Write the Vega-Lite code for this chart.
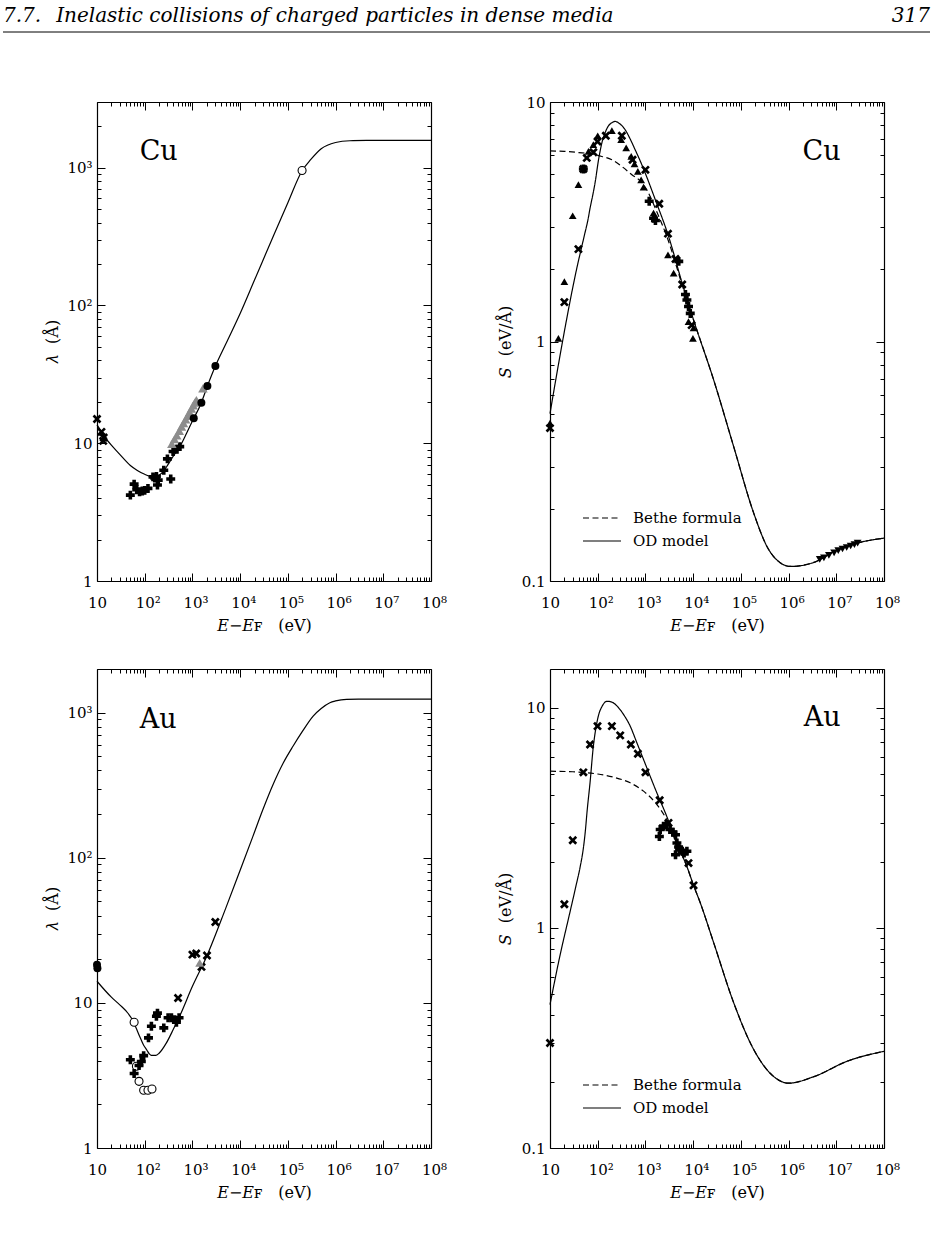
{
  "$schema": "https://vega.github.io/schema/vega-lite/v6.json",
  "autosize": {"type": "none"},
  "padding": {"left": 3, "top": 22, "right": 931, "bottom": 1215},
  "background": "white",
  "config": {
    "view": {"stroke": null},
    "font": "DejaVu Serif",
    "point": {"opacity": 1},
    "axis": {
      "labelFont": "DejaVu Serif", "labelFontSize": 15, "labelColor": "black", "labelFontWeight": "normal",
      "titleFont": "DejaVu Serif", "titleFontSize": 16, "titleColor": "black", "titleFontWeight": "normal",
      "tickColor": "black", "tickWidth": 1, "domainColor": "black", "domainWidth": 1.2,
      "grid": false, "labelOverlap": false, "labelFlush": false, "labelBound": false
    },
    "legend": {
      "orient": "bottom-left", "offset": 32, "padding": 0,
      "labelFont": "DejaVu Serif", "labelFontSize": 15, "labelColor": "black",
      "symbolType": "stroke", "symbolSize": 1444, "symbolStrokeWidth": 1.2, "symbolStrokeColor": "black",
      "labelOffset": 11, "clipHeight": 16, "rowPadding": 7
    }
  },
  "datasets": {
    "header": [{"section": "7.7.\u2002\u2005Inelastic collisions of charged particles in dense media", "page": "317"}],
    "metals": [{"metal": "Cu"}, {"metal": "Au"}],
    "cuLambdaCurve": [
      {"E": 10, "lambda": 13.6}, {"E": 12, "lambda": 12.3}, {"E": 14, "lambda": 11.2}, {"E": 16, "lambda": 10.6},
      {"E": 20, "lambda": 9.7}, {"E": 30, "lambda": 8.3}, {"E": 50, "lambda": 6.9}, {"E": 70, "lambda": 6.35},
      {"E": 100, "lambda": 5.95}, {"E": 130, "lambda": 5.75}, {"E": 160, "lambda": 5.7}, {"E": 200, "lambda": 5.85},
      {"E": 250, "lambda": 6.3}, {"E": 300, "lambda": 6.9}, {"E": 400, "lambda": 8.1}, {"E": 550, "lambda": 9.5},
      {"E": 700, "lambda": 11.2}, {"E": 1000, "lambda": 14.5}, {"E": 1500, "lambda": 19.3}, {"E": 2000, "lambda": 25.3},
      {"E": 3000, "lambda": 36}, {"E": 5000, "lambda": 52.5}, {"E": 10000, "lambda": 87.5}, {"E": 20000, "lambda": 153},
      {"E": 50000, "lambda": 321}, {"E": 100000, "lambda": 557}, {"E": 200000, "lambda": 955}, {"E": 300000, "lambda": 1143},
      {"E": 500000, "lambda": 1373}, {"E": 1000000, "lambda": 1525}, {"E": 2000000, "lambda": 1570}, {"E": 5000000, "lambda": 1578},
      {"E": 10000000, "lambda": 1580}, {"E": 100000000, "lambda": 1580}
    ],
    "cuLambdaPoints": [
      {"E": 10, "lambda": 15.0, "marker": "cross"}, {"E": 12.4, "lambda": 12.1, "marker": "cross"},
      {"E": 13.8, "lambda": 11.0, "marker": "cross"}, {"E": 13.5, "lambda": 10.4, "marker": "cross"},
      {"E": 50, "lambda": 4.2, "marker": "plus"}, {"E": 60, "lambda": 5.05, "marker": "plus"},
      {"E": 68, "lambda": 4.6, "marker": "plus"}, {"E": 78, "lambda": 4.45, "marker": "plus"},
      {"E": 89, "lambda": 4.5, "marker": "plus"}, {"E": 100, "lambda": 4.55, "marker": "plus"},
      {"E": 117, "lambda": 4.7, "marker": "plus"}, {"E": 149, "lambda": 5.7, "marker": "plus"},
      {"E": 162, "lambda": 5.6, "marker": "plus"}, {"E": 176, "lambda": 5.75, "marker": "plus"},
      {"E": 185, "lambda": 4.97, "marker": "plus"}, {"E": 192, "lambda": 5.4, "marker": "plus"},
      {"E": 251, "lambda": 6.37, "marker": "plus"}, {"E": 299, "lambda": 7.7, "marker": "plus"},
      {"E": 351, "lambda": 5.5, "marker": "plus"}, {"E": 393, "lambda": 8.7, "marker": "plus"},
      {"E": 475, "lambda": 9.05, "marker": "plus"}, {"E": 542, "lambda": 9.45, "marker": "plus"},
      {"E": 370, "lambda": 9.9, "marker": "grey"}, {"E": 420, "lambda": 10.7, "marker": "grey"},
      {"E": 470, "lambda": 11.4, "marker": "grey"}, {"E": 530, "lambda": 12.3, "marker": "grey"},
      {"E": 590, "lambda": 13.2, "marker": "grey"}, {"E": 650, "lambda": 14.0, "marker": "grey"},
      {"E": 720, "lambda": 14.9, "marker": "grey"}, {"E": 790, "lambda": 15.8, "marker": "grey"},
      {"E": 870, "lambda": 16.8, "marker": "grey"}, {"E": 950, "lambda": 17.8, "marker": "grey"},
      {"E": 1040, "lambda": 18.8, "marker": "grey"}, {"E": 1120, "lambda": 19.7, "marker": "grey"},
      {"E": 1210, "lambda": 20.6, "marker": "grey"}, {"E": 1660, "lambda": 25, "marker": "grey"},
      {"E": 1065, "lambda": 15.2, "marker": "dot"}, {"E": 1540, "lambda": 19.7, "marker": "dot"},
      {"E": 2060, "lambda": 26, "marker": "dot"}, {"E": 3030, "lambda": 36.3, "marker": "dot"},
      {"E": 198600, "lambda": 955, "marker": "ring"}
    ],
    "cuStoppingCurves": [
      {"E": 10, "S": 0.5, "model": "OD model"}, {"E": 13, "S": 0.68, "model": "OD model"}, {"E": 16, "S": 0.86, "model": "OD model"},
      {"E": 22, "S": 1.22, "model": "OD model"}, {"E": 30, "S": 1.68, "model": "OD model"}, {"E": 38, "S": 2.1, "model": "OD model"},
      {"E": 45, "S": 2.43, "model": "OD model"}, {"E": 54, "S": 2.84, "model": "OD model"}, {"E": 62, "S": 3.2, "model": "OD model"},
      {"E": 70, "S": 3.65, "model": "OD model"}, {"E": 80, "S": 4.15, "model": "OD model"}, {"E": 88, "S": 4.6, "model": "OD model"},
      {"E": 105, "S": 5.8, "model": "OD model"}, {"E": 122, "S": 6.74, "model": "OD model"}, {"E": 145, "S": 7.5, "model": "OD model"},
      {"E": 168, "S": 7.95, "model": "OD model"}, {"E": 200, "S": 8.2, "model": "OD model"}, {"E": 232, "S": 8.3, "model": "OD model"},
      {"E": 280, "S": 8.15, "model": "OD model"}, {"E": 376, "S": 7.66, "model": "OD model"}, {"E": 480, "S": 7.0, "model": "OD model"},
      {"E": 611, "S": 6.31, "model": "OD model"}, {"E": 800, "S": 5.6, "model": "OD model"}, {"E": 990, "S": 5.05, "model": "OD model"},
      {"E": 1610, "S": 3.91, "model": "OD model"}, {"E": 3050, "S": 2.75, "model": "OD model"}, {"E": 5900, "S": 1.75, "model": "OD model"},
      {"E": 10200, "S": 1.23, "model": "OD model"}, {"E": 27000, "S": 0.69, "model": "OD model"}, {"E": 71000, "S": 0.363, "model": "OD model"},
      {"E": 186000, "S": 0.192, "model": "OD model"}, {"E": 355000, "S": 0.139, "model": "OD model"}, {"E": 676000, "S": 0.119, "model": "OD model"},
      {"E": 1100000, "S": 0.115, "model": "OD model"}, {"E": 3400000, "S": 0.1196, "model": "OD model"}, {"E": 10500000, "S": 0.135, "model": "OD model"},
      {"E": 27500000, "S": 0.144, "model": "OD model"}, {"E": 100000000, "S": 0.151, "model": "OD model"},
      {"E": 10, "S": 6.25, "model": "Bethe formula"}, {"E": 20, "S": 6.22, "model": "Bethe formula"}, {"E": 40, "S": 6.15, "model": "Bethe formula"},
      {"E": 70, "S": 6.08, "model": "Bethe formula"}, {"E": 103, "S": 5.97, "model": "Bethe formula"}, {"E": 198, "S": 5.74, "model": "Bethe formula"},
      {"E": 320, "S": 5.38, "model": "Bethe formula"}, {"E": 520, "S": 4.97, "model": "Bethe formula"}, {"E": 850, "S": 4.6, "model": "Bethe formula"},
      {"E": 1070, "S": 4.3, "model": "Bethe formula"}, {"E": 1610, "S": 3.6, "model": "Bethe formula"}, {"E": 3050, "S": 2.62, "model": "Bethe formula"},
      {"E": 5900, "S": 1.72, "model": "Bethe formula"}, {"E": 10200, "S": 1.23, "model": "Bethe formula"}, {"E": 27000, "S": 0.69, "model": "Bethe formula"},
      {"E": 71000, "S": 0.363, "model": "Bethe formula"}, {"E": 186000, "S": 0.192, "model": "Bethe formula"}, {"E": 355000, "S": 0.139, "model": "Bethe formula"},
      {"E": 676000, "S": 0.119, "model": "Bethe formula"}, {"E": 1100000, "S": 0.115, "model": "Bethe formula"}, {"E": 3400000, "S": 0.1196, "model": "Bethe formula"},
      {"E": 10500000, "S": 0.135, "model": "Bethe formula"}, {"E": 27500000, "S": 0.144, "model": "Bethe formula"}, {"E": 100000000, "S": 0.151, "model": "Bethe formula"}
    ],
    "cuStoppingPoints": [
      {"E": 10, "S": 0.456, "marker": "tri"}, {"E": 15, "S": 1.03, "marker": "tri"}, {"E": 20, "S": 1.78, "marker": "tri"},
      {"E": 29.9, "S": 3.35, "marker": "tri"}, {"E": 39.4, "S": 4.52, "marker": "tri"}, {"E": 64, "S": 6.22, "marker": "tri"},
      {"E": 81, "S": 6.64, "marker": "tri"}, {"E": 100, "S": 7.23, "marker": "tri"}, {"E": 198, "S": 7.6, "marker": "tri"},
      {"E": 310, "S": 6.97, "marker": "tri"}, {"E": 395, "S": 6.43, "marker": "tri"}, {"E": 504, "S": 5.93, "marker": "tri"},
      {"E": 590, "S": 5.52, "marker": "tri"}, {"E": 694, "S": 5.13, "marker": "tri"}, {"E": 813, "S": 4.73, "marker": "tri"},
      {"E": 913, "S": 4.41, "marker": "tri"}, {"E": 1480, "S": 3.44, "marker": "tri"}, {"E": 2970, "S": 2.3, "marker": "tri"},
      {"E": 3900, "S": 1.93, "marker": "tri"}, {"E": 8000, "S": 1.21, "marker": "tri"}, {"E": 10200, "S": 1.14, "marker": "tri"},
      {"E": 9900, "S": 1.03, "marker": "tri"},
      {"E": 10, "S": 0.435, "marker": "cross"}, {"E": 20, "S": 1.46, "marker": "cross"}, {"E": 39.4, "S": 2.43, "marker": "cross"},
      {"E": 50, "S": 5.25, "marker": "cross"}, {"E": 59, "S": 5.84, "marker": "cross"}, {"E": 81, "S": 6.17, "marker": "cross"},
      {"E": 99, "S": 6.84, "marker": "cross"}, {"E": 148, "S": 7.23, "marker": "cross"}, {"E": 320, "S": 7.23, "marker": "cross"},
      {"E": 537, "S": 5.74, "marker": "cross"}, {"E": 1000, "S": 5.21, "marker": "cross"}, {"E": 1950, "S": 3.76, "marker": "cross"},
      {"E": 2970, "S": 2.82, "marker": "cross"}, {"E": 4270, "S": 2.21, "marker": "cross"}, {"E": 5900, "S": 1.73, "marker": "cross"},
      {"E": 9300, "S": 1.17, "marker": "cross"},
      {"E": 50, "S": 5.25, "marker": "plus"}, {"E": 1200, "S": 3.85, "marker": "plus"}, {"E": 1480, "S": 3.27, "marker": "plus"},
      {"E": 1620, "S": 3.2, "marker": "plus"}, {"E": 5000, "S": 2.16, "marker": "plus"}, {"E": 6900, "S": 1.57, "marker": "plus"},
      {"E": 7400, "S": 1.49, "marker": "plus"}, {"E": 8000, "S": 1.4, "marker": "plus"}, {"E": 8700, "S": 1.31, "marker": "plus"},
      {"E": 4500000, "S": 0.123, "marker": "tridown"}, {"E": 5500000, "S": 0.125, "marker": "tridown"}, {"E": 7000000, "S": 0.128, "marker": "tridown"},
      {"E": 9000000, "S": 0.131, "marker": "tridown"}, {"E": 11000000, "S": 0.134, "marker": "tridown"}, {"E": 13500000, "S": 0.136, "marker": "tridown"},
      {"E": 16500000, "S": 0.138, "marker": "tridown"}, {"E": 20000000, "S": 0.14, "marker": "tridown"}, {"E": 24000000, "S": 0.142, "marker": "tridown"},
      {"E": 28000000, "S": 0.144, "marker": "tridown"}
    ],
    "auLambdaCurve": [
      {"E": 10, "lambda": 14.1}, {"E": 20, "lambda": 10.95}, {"E": 30, "lambda": 9.7}, {"E": 45, "lambda": 8.45},
      {"E": 57, "lambda": 7.5}, {"E": 65, "lambda": 6.8}, {"E": 78, "lambda": 5.9}, {"E": 95, "lambda": 5.1},
      {"E": 110, "lambda": 4.75}, {"E": 125, "lambda": 4.45}, {"E": 138, "lambda": 4.35}, {"E": 170, "lambda": 4.35},
      {"E": 200, "lambda": 4.5}, {"E": 285, "lambda": 5.3}, {"E": 400, "lambda": 6.6}, {"E": 540, "lambda": 8.1},
      {"E": 1000, "lambda": 13}, {"E": 2000, "lambda": 21}, {"E": 5000, "lambda": 45}, {"E": 10000, "lambda": 82},
      {"E": 18600, "lambda": 141}, {"E": 30000, "lambda": 215}, {"E": 49000, "lambda": 320}, {"E": 80000, "lambda": 450},
      {"E": 129000, "lambda": 589}, {"E": 200000, "lambda": 740}, {"E": 339000, "lambda": 948}, {"E": 500000, "lambda": 1070},
      {"E": 760000, "lambda": 1172}, {"E": 1000000, "lambda": 1205}, {"E": 1700000, "lambda": 1236}, {"E": 3000000, "lambda": 1240},
      {"E": 100000000, "lambda": 1240}
    ],
    "auLambdaPoints": [
      {"E": 10, "lambda": 18.3, "marker": "dot"}, {"E": 10.2, "lambda": 17.3, "marker": "dot"},
      {"E": 60, "lambda": 7.35, "marker": "ring"}, {"E": 67, "lambda": 3.66, "marker": "ring"}, {"E": 76, "lambda": 2.88, "marker": "ring"},
      {"E": 95, "lambda": 2.5, "marker": "ring"}, {"E": 117, "lambda": 2.5, "marker": "ring"}, {"E": 142, "lambda": 2.55, "marker": "ring"},
      {"E": 50, "lambda": 4.06, "marker": "plus"}, {"E": 60, "lambda": 3.26, "marker": "plus"}, {"E": 76, "lambda": 3.7, "marker": "plus"},
      {"E": 85, "lambda": 3.95, "marker": "plus"}, {"E": 95, "lambda": 4.33, "marker": "plus"}, {"E": 120, "lambda": 5.74, "marker": "plus"},
      {"E": 138, "lambda": 6.9, "marker": "plus"}, {"E": 176, "lambda": 8.1, "marker": "plus"}, {"E": 185, "lambda": 8.5, "marker": "plus"},
      {"E": 251, "lambda": 6.73, "marker": "plus"}, {"E": 309, "lambda": 7.9, "marker": "plus"}, {"E": 363, "lambda": 7.9, "marker": "plus"},
      {"E": 426, "lambda": 7.67, "marker": "plus"}, {"E": 462, "lambda": 7.35, "marker": "plus"}, {"E": 525, "lambda": 7.9, "marker": "plus"},
      {"E": 500, "lambda": 10.8, "marker": "cross"}, {"E": 1000, "lambda": 21.5, "marker": "cross"}, {"E": 1200, "lambda": 21.9, "marker": "cross"},
      {"E": 1550, "lambda": 17.7, "marker": "cross"}, {"E": 2020, "lambda": 21.2, "marker": "cross"}, {"E": 3020, "lambda": 36.1, "marker": "cross"},
      {"E": 1420, "lambda": 18.9, "marker": "grey"}
    ],
    "auStoppingCurves": [
      {"E": 10, "S": 0.448, "model": "OD model"}, {"E": 16, "S": 0.74, "model": "OD model"}, {"E": 26, "S": 1.17, "model": "OD model"},
      {"E": 35, "S": 1.55, "model": "OD model"}, {"E": 43, "S": 1.9, "model": "OD model"}, {"E": 50, "S": 2.3, "model": "OD model"},
      {"E": 55, "S": 2.75, "model": "OD model"}, {"E": 60, "S": 3.4, "model": "OD model"}, {"E": 69, "S": 4.56, "model": "OD model"},
      {"E": 81, "S": 6.68, "model": "OD model"}, {"E": 90, "S": 7.9, "model": "OD model"}, {"E": 103, "S": 9.17, "model": "OD model"},
      {"E": 125, "S": 10.2, "model": "OD model"}, {"E": 156, "S": 10.7, "model": "OD model"}, {"E": 200, "S": 10.6, "model": "OD model"},
      {"E": 252, "S": 10.2, "model": "OD model"}, {"E": 350, "S": 9.3, "model": "OD model"}, {"E": 480, "S": 8.25, "model": "OD model"},
      {"E": 650, "S": 7.0, "model": "OD model"}, {"E": 913, "S": 5.82, "model": "OD model"}, {"E": 1740, "S": 4.1, "model": "OD model"},
      {"E": 2800, "S": 3.21, "model": "OD model"}, {"E": 4500, "S": 2.43, "model": "OD model"}, {"E": 7400, "S": 1.9, "model": "OD model"},
      {"E": 10200, "S": 1.56, "model": "OD model"}, {"E": 14100, "S": 1.3, "model": "OD model"}, {"E": 27000, "S": 0.855, "model": "OD model"},
      {"E": 71000, "S": 0.456, "model": "OD model"}, {"E": 186000, "S": 0.28, "model": "OD model"}, {"E": 490000, "S": 0.211, "model": "OD model"},
      {"E": 1000000, "S": 0.197, "model": "OD model"}, {"E": 3400000, "S": 0.211, "model": "OD model"}, {"E": 17000000, "S": 0.248, "model": "OD model"},
      {"E": 100000000, "S": 0.275, "model": "OD model"},
      {"E": 10, "S": 5.15, "model": "Bethe formula"}, {"E": 30, "S": 5.12, "model": "Bethe formula"}, {"E": 100, "S": 5.0, "model": "Bethe formula"},
      {"E": 214, "S": 4.84, "model": "Bethe formula"}, {"E": 480, "S": 4.56, "model": "Bethe formula"}, {"E": 913, "S": 4.18, "model": "Bethe formula"},
      {"E": 1740, "S": 3.63, "model": "Bethe formula"}, {"E": 2800, "S": 3.1, "model": "Bethe formula"}, {"E": 4500, "S": 2.43, "model": "Bethe formula"},
      {"E": 7400, "S": 1.9, "model": "Bethe formula"}, {"E": 10200, "S": 1.56, "model": "Bethe formula"}, {"E": 14100, "S": 1.3, "model": "Bethe formula"},
      {"E": 27000, "S": 0.855, "model": "Bethe formula"}, {"E": 71000, "S": 0.456, "model": "Bethe formula"}, {"E": 186000, "S": 0.28, "model": "Bethe formula"},
      {"E": 490000, "S": 0.211, "model": "Bethe formula"}, {"E": 1000000, "S": 0.197, "model": "Bethe formula"}, {"E": 3400000, "S": 0.211, "model": "Bethe formula"},
      {"E": 17000000, "S": 0.248, "model": "Bethe formula"}, {"E": 100000000, "S": 0.275, "model": "Bethe formula"}
    ],
    "auStoppingPoints": [
      {"E": 10, "S": 0.3, "marker": "cross"}, {"E": 20, "S": 1.28, "marker": "cross"}, {"E": 30, "S": 2.5, "marker": "cross"},
      {"E": 50, "S": 5.09, "marker": "cross"}, {"E": 69, "S": 6.81, "marker": "cross"}, {"E": 99, "S": 8.25, "marker": "cross"},
      {"E": 198, "S": 8.25, "marker": "cross"}, {"E": 296, "S": 7.49, "marker": "cross"}, {"E": 495, "S": 6.81, "marker": "cross"},
      {"E": 694, "S": 6.18, "marker": "cross"}, {"E": 1000, "S": 5.09, "marker": "cross"}, {"E": 1990, "S": 3.8, "marker": "cross"},
      {"E": 3050, "S": 3.0, "marker": "cross"}, {"E": 8000, "S": 1.97, "marker": "cross"}, {"E": 10200, "S": 1.56, "marker": "cross"},
      {"E": 1960, "S": 2.6, "marker": "plus"}, {"E": 2040, "S": 2.8, "marker": "plus"}, {"E": 2400, "S": 2.9, "marker": "plus"},
      {"E": 2750, "S": 2.95, "marker": "plus"}, {"E": 3270, "S": 2.8, "marker": "plus"}, {"E": 3770, "S": 2.72, "marker": "plus"},
      {"E": 4270, "S": 2.65, "marker": "plus"}, {"E": 4570, "S": 2.43, "marker": "plus"}, {"E": 4270, "S": 2.15, "marker": "plus"},
      {"E": 4950, "S": 2.33, "marker": "plus"}, {"E": 5190, "S": 2.27, "marker": "plus"}, {"E": 5900, "S": 2.23, "marker": "plus"},
      {"E": 6460, "S": 2.19, "marker": "plus"}, {"E": 7400, "S": 2.23, "marker": "plus"}
    ]
  },
  "spacing": 70,
  "bounds": "flush",
  "vconcat": [
    {
      "width": 927, "height": 10,
      "data": {"name": "header"},
      "layer": [
        {"mark": {"type": "rule", "color": "black", "strokeWidth": 1},
         "encoding": {"y": {"datum": 0, "type": "quantitative", "scale": {"domain": [0, 1]}, "axis": null}}},
        {"mark": {"type": "text", "align": "left", "baseline": "alphabetic", "font": "DejaVu Serif", "fontStyle": "italic", "fontSize": 20, "color": "black"},
         "encoding": {"x": {"datum": 0, "type": "quantitative", "scale": {"domain": [0, 1]}, "axis": null},
                      "y": {"datum": 1, "type": "quantitative", "axis": null},
                      "text": {"field": "section"}}},
        {"mark": {"type": "text", "align": "right", "baseline": "alphabetic", "font": "DejaVu Serif", "fontStyle": "italic", "fontSize": 20, "color": "black"},
         "encoding": {"x": {"datum": 1, "type": "quantitative", "axis": null},
                      "y": {"datum": 1, "type": "quantitative", "axis": null},
                      "text": {"field": "page"}}}
      ]
    },
    {
      "spacing": 0,
      "bounds": "flush",
      "hconcat": [
        {"width": 94, "height": 10, "data": {"values": []}, "mark": "point"},
        {
          "columns": 2,
          "spacing": {"row": 88, "column": 119},
          "bounds": "flush",
          "resolve": {"scale": {"x": "independent", "y": "independent", "strokeDash": "independent"}, "legend": {"strokeDash": "independent"}},
          "concat": [
            {
              "width": 334, "height": 479,
              "resolve": {"axis": {"x": "independent", "y": "independent"}},
              "layer": [
                {
                  "data": {"name": "cuLambdaCurve"},
                  "mark": {"type": "line", "interpolate": "monotone", "color": "black", "strokeWidth": 1.2},
                  "encoding": {
                    "x": {"field": "E", "type": "quantitative", "scale": {"type": "log", "domain": [10, 100000000], "nice": false},
                          "axis": {"orient": "bottom", "values": [10, 100, 1000, 10000, 100000, 1000000, 10000000, 100000000], "tickSize": -8,
                                   "labelExpr": "datum.value < 11 ? '10' : '10' + ['', '', '²', '³', '⁴', '⁵', '⁶', '⁷', '⁸'][round(log(datum.value) / LN10)]",
                                   "labelAlign": "left", "labelOffset": -9.5, "labelBaseline": "alphabetic", "labelPadding": 34,
                                   "title": "𝐸−𝐸ꜰ\u2003(eV)", "titlePadding": 7}},
                    "y": {"field": "lambda", "type": "quantitative", "scale": {"type": "log", "domain": [1, 3000], "nice": false},
                          "axis": {"orient": "left", "values": [1, 10, 100, 1000], "tickSize": -8,
                                   "labelExpr": "datum.value < 2 ? '1' : datum.value < 11 ? '10' : '10' + ['', '', '²', '³'][round(log(datum.value) / LN10)]",
                                   "labelPadding": 13, "labelBaseline": "middle", "title": "𝜆\u2002\u2009(Å)", "titlePadding": 6}}
                  }
                },
                {
                  "data": {"name": "cuLambdaPoints"},
                  "transform": [{"filter": "datum.marker === 'cross'"}],
                  "mark": {"type": "point", "shape": "M0.566,-0.99L0.99,-0.566L0.424,0L0.99,0.566L0.566,0.99L0,0.424L-0.566,0.99L-0.99,0.566L-0.424,0L-0.99,-0.566L-0.566,-0.99L0,-0.424Z", "filled": true, "color": "black", "size": 80, "opacity": 1},
                  "encoding": {
                    "x": {"field": "E", "type": "quantitative",
                          "axis": {"orient": "bottom", "values": [20, 30, 40, 50, 60, 70, 80, 90, 200, 300, 400, 500, 600, 700, 800, 900, 2000, 3000, 4000, 5000, 6000, 7000, 8000, 9000, 20000, 30000, 40000, 50000, 60000, 70000, 80000, 90000, 200000, 300000, 400000, 500000, 600000, 700000, 800000, 900000, 2000000, 3000000, 4000000, 5000000, 6000000, 7000000, 8000000, 9000000, 20000000, 30000000, 40000000, 50000000, 60000000, 70000000, 80000000, 90000000], "tickSize": -4, "labels": false, "domain": false, "title": null}},
                    "y": {"field": "lambda", "type": "quantitative",
                          "axis": {"orient": "left", "values": [2, 3, 4, 5, 6, 7, 8, 9, 20, 30, 40, 50, 60, 70, 80, 90, 200, 300, 400, 500, 600, 700, 800, 900, 2000, 3000], "tickSize": -4, "labels": false, "domain": false, "title": null}}
                  }
                },
                {
                  "data": {"name": "cuLambdaPoints"},
                  "transform": [{"filter": "datum.marker === 'plus'"}],
                  "mark": {"type": "point", "shape": "cross", "filled": true, "color": "black", "size": 80, "opacity": 1},
                  "encoding": {
                    "x": {"field": "E", "type": "quantitative",
                          "axis": {"orient": "top", "values": [10, 100, 1000, 10000, 100000, 1000000, 10000000, 100000000], "tickSize": -8, "labels": false, "domain": true, "title": null}},
                    "y": {"field": "lambda", "type": "quantitative",
                          "axis": {"orient": "right", "values": [1, 10, 100, 1000], "tickSize": -8, "labels": false, "domain": true, "title": null}}
                  }
                },
                {
                  "data": {"name": "cuLambdaPoints"},
                  "transform": [{"filter": "datum.marker === 'grey'"}],
                  "mark": {"type": "point", "shape": "triangle-up", "filled": true, "color": "#8c8c8c", "size": 90, "opacity": 1},
                  "encoding": {
                    "x": {"field": "E", "type": "quantitative",
                          "axis": {"orient": "top", "values": [20, 30, 40, 50, 60, 70, 80, 90, 200, 300, 400, 500, 600, 700, 800, 900, 2000, 3000, 4000, 5000, 6000, 7000, 8000, 9000, 20000, 30000, 40000, 50000, 60000, 70000, 80000, 90000, 200000, 300000, 400000, 500000, 600000, 700000, 800000, 900000, 2000000, 3000000, 4000000, 5000000, 6000000, 7000000, 8000000, 9000000, 20000000, 30000000, 40000000, 50000000, 60000000, 70000000, 80000000, 90000000], "tickSize": -4, "labels": false, "domain": false, "title": null}},
                    "y": {"field": "lambda", "type": "quantitative",
                          "axis": {"orient": "right", "values": [2, 3, 4, 5, 6, 7, 8, 9, 20, 30, 40, 50, 60, 70, 80, 90, 200, 300, 400, 500, 600, 700, 800, 900, 2000, 3000], "tickSize": -4, "labels": false, "domain": false, "title": null}}
                  }
                },
                {
                  "data": {"name": "cuLambdaPoints"},
                  "transform": [{"filter": "datum.marker === 'dot'"}],
                  "mark": {"type": "point", "shape": "circle", "filled": true, "color": "black", "size": 64, "opacity": 1},
                  "encoding": {
                    "x": {"field": "E", "type": "quantitative", "axis": null},
                    "y": {"field": "lambda", "type": "quantitative", "axis": null}
                  }
                },
                {
                  "data": {"name": "cuLambdaPoints"},
                  "transform": [{"filter": "datum.marker === 'ring'"}],
                  "mark": {"type": "point", "shape": "circle", "filled": true, "fill": "white", "stroke": "black", "strokeWidth": 1.1, "size": 64, "opacity": 1},
                  "encoding": {
                    "x": {"field": "E", "type": "quantitative", "axis": null},
                    "y": {"field": "lambda", "type": "quantitative", "axis": null}
                  }
                },
                {
                  "data": {"name": "metals"},
                  "transform": [{"filter": "datum.metal === 'Cu'"}],
                  "mark": {"type": "text", "align": "left", "baseline": "alphabetic", "font": "DejaVu Serif", "fontSize": 27, "color": "black"},
                  "encoding": {
                    "x": {"datum": 78.5, "type": "quantitative", "axis": null},
                    "y": {"datum": 1130, "type": "quantitative", "axis": null},
                    "text": {"field": "metal"}
                  }
                }
              ]
            },
            {
              "width": 334, "height": 479,
              "resolve": {"axis": {"x": "independent", "y": "independent"}},
              "layer": [
                {
                  "data": {"name": "cuStoppingCurves"},
                  "mark": {"type": "line", "interpolate": "monotone", "color": "black", "strokeWidth": 1.2},
                  "encoding": {
                    "x": {"field": "E", "type": "quantitative", "scale": {"type": "log", "domain": [10, 100000000], "nice": false},
                          "axis": {"orient": "bottom", "values": [10, 100, 1000, 10000, 100000, 1000000, 10000000, 100000000], "tickSize": -8,
                                   "labelExpr": "datum.value < 11 ? '10' : '10' + ['', '', '²', '³', '⁴', '⁵', '⁶', '⁷', '⁸'][round(log(datum.value) / LN10)]",
                                   "labelAlign": "left", "labelOffset": -9.5, "labelBaseline": "alphabetic", "labelPadding": 34,
                                   "title": "𝐸−𝐸ꜰ\u2003(eV)", "titlePadding": 7}},
                    "y": {"field": "S", "type": "quantitative", "scale": {"type": "log", "domain": [0.1, 10], "nice": false},
                          "axis": {"orient": "left", "values": [0.1, 1, 10], "tickSize": -8,
                                   "labelExpr": "datum.value < 0.5 ? '0.1' : datum.value < 5 ? '1' : '10'",
                                   "labelPadding": 13, "labelBaseline": "middle", "title": "𝑆\u2002\u2009(eV/Å)", "titlePadding": 8}},
                    "strokeDash": {"field": "model", "type": "nominal",
                                   "scale": {"domain": ["Bethe formula", "OD model"], "range": [[6, 3.5], [1, 0]]},
                                   "legend": {"title": null}}
                  }
                },
                {
                  "data": {"name": "cuStoppingPoints"},
                  "transform": [{"filter": "datum.marker === 'tri'"}],
                  "mark": {"type": "point", "shape": "triangle-up", "filled": true, "color": "black", "size": 60, "opacity": 1},
                  "encoding": {
                    "x": {"field": "E", "type": "quantitative",
                          "axis": {"orient": "bottom", "values": [20, 30, 40, 50, 60, 70, 80, 90, 200, 300, 400, 500, 600, 700, 800, 900, 2000, 3000, 4000, 5000, 6000, 7000, 8000, 9000, 20000, 30000, 40000, 50000, 60000, 70000, 80000, 90000, 200000, 300000, 400000, 500000, 600000, 700000, 800000, 900000, 2000000, 3000000, 4000000, 5000000, 6000000, 7000000, 8000000, 9000000, 20000000, 30000000, 40000000, 50000000, 60000000, 70000000, 80000000, 90000000], "tickSize": -4, "labels": false, "domain": false, "title": null}},
                    "y": {"field": "S", "type": "quantitative",
                          "axis": {"orient": "left", "values": [0.2, 0.3, 0.4, 0.5, 0.6, 0.7, 0.8, 0.9, 2, 3, 4, 5, 6, 7, 8, 9], "tickSize": -4, "labels": false, "domain": false, "title": null}}
                  }
                },
                {
                  "data": {"name": "cuStoppingPoints"},
                  "transform": [{"filter": "datum.marker === 'cross'"}],
                  "mark": {"type": "point", "shape": "M0.566,-0.99L0.99,-0.566L0.424,0L0.99,0.566L0.566,0.99L0,0.424L-0.566,0.99L-0.99,0.566L-0.424,0L-0.99,-0.566L-0.566,-0.99L0,-0.424Z", "filled": true, "color": "black", "size": 80, "opacity": 1},
                  "encoding": {
                    "x": {"field": "E", "type": "quantitative",
                          "axis": {"orient": "top", "values": [10, 100, 1000, 10000, 100000, 1000000, 10000000, 100000000], "tickSize": -8, "labels": false, "domain": true, "title": null}},
                    "y": {"field": "S", "type": "quantitative",
                          "axis": {"orient": "right", "values": [0.1, 1, 10], "tickSize": -8, "labels": false, "domain": true, "title": null}}
                  }
                },
                {
                  "data": {"name": "cuStoppingPoints"},
                  "transform": [{"filter": "datum.marker === 'plus'"}],
                  "mark": {"type": "point", "shape": "cross", "filled": true, "color": "black", "size": 80, "opacity": 1},
                  "encoding": {
                    "x": {"field": "E", "type": "quantitative",
                          "axis": {"orient": "top", "values": [20, 30, 40, 50, 60, 70, 80, 90, 200, 300, 400, 500, 600, 700, 800, 900, 2000, 3000, 4000, 5000, 6000, 7000, 8000, 9000, 20000, 30000, 40000, 50000, 60000, 70000, 80000, 90000, 200000, 300000, 400000, 500000, 600000, 700000, 800000, 900000, 2000000, 3000000, 4000000, 5000000, 6000000, 7000000, 8000000, 9000000, 20000000, 30000000, 40000000, 50000000, 60000000, 70000000, 80000000, 90000000], "tickSize": -4, "labels": false, "domain": false, "title": null}},
                    "y": {"field": "S", "type": "quantitative",
                          "axis": {"orient": "right", "values": [0.2, 0.3, 0.4, 0.5, 0.6, 0.7, 0.8, 0.9, 2, 3, 4, 5, 6, 7, 8, 9], "tickSize": -4, "labels": false, "domain": false, "title": null}}
                  }
                },
                {
                  "data": {"name": "cuStoppingPoints"},
                  "transform": [{"filter": "datum.marker === 'tridown'"}],
                  "mark": {"type": "point", "shape": "triangle-down", "filled": true, "color": "black", "size": 60, "opacity": 1},
                  "encoding": {
                    "x": {"field": "E", "type": "quantitative", "axis": null},
                    "y": {"field": "S", "type": "quantitative", "axis": null}
                  }
                },
                {
                  "data": {"name": "metals"},
                  "transform": [{"filter": "datum.metal === 'Cu'"}],
                  "mark": {"type": "text", "align": "right", "baseline": "alphabetic", "font": "DejaVu Serif", "fontSize": 27, "color": "black"},
                  "encoding": {
                    "x": {"datum": 12300000, "type": "quantitative", "axis": null},
                    "y": {"datum": 5.74, "type": "quantitative", "axis": null},
                    "text": {"field": "metal"}
                  }
                }
              ]
            },
            {
              "width": 334, "height": 479,
              "resolve": {"axis": {"x": "independent", "y": "independent"}},
              "layer": [
                {
                  "data": {"name": "auLambdaCurve"},
                  "mark": {"type": "line", "interpolate": "monotone", "color": "black", "strokeWidth": 1.2},
                  "encoding": {
                    "x": {"field": "E", "type": "quantitative", "scale": {"type": "log", "domain": [10, 100000000], "nice": false},
                          "axis": {"orient": "bottom", "values": [10, 100, 1000, 10000, 100000, 1000000, 10000000, 100000000], "tickSize": -8,
                                   "labelExpr": "datum.value < 11 ? '10' : '10' + ['', '', '²', '³', '⁴', '⁵', '⁶', '⁷', '⁸'][round(log(datum.value) / LN10)]",
                                   "labelAlign": "left", "labelOffset": -9.5, "labelBaseline": "alphabetic", "labelPadding": 34,
                                   "title": "𝐸−𝐸ꜰ\u2003(eV)", "titlePadding": 7}},
                    "y": {"field": "lambda", "type": "quantitative", "scale": {"type": "log", "domain": [1, 2000], "nice": false},
                          "axis": {"orient": "left", "values": [1, 10, 100, 1000], "tickSize": -8,
                                   "labelExpr": "datum.value < 2 ? '1' : datum.value < 11 ? '10' : '10' + ['', '', '²', '³'][round(log(datum.value) / LN10)]",
                                   "labelPadding": 13, "labelBaseline": "middle", "title": "𝜆\u2002\u2009(Å)", "titlePadding": 6}}
                  }
                },
                {
                  "data": {"name": "auLambdaPoints"},
                  "transform": [{"filter": "datum.marker === 'dot'"}],
                  "mark": {"type": "point", "shape": "circle", "filled": true, "color": "black", "size": 64, "opacity": 1},
                  "encoding": {
                    "x": {"field": "E", "type": "quantitative",
                          "axis": {"orient": "bottom", "values": [20, 30, 40, 50, 60, 70, 80, 90, 200, 300, 400, 500, 600, 700, 800, 900, 2000, 3000, 4000, 5000, 6000, 7000, 8000, 9000, 20000, 30000, 40000, 50000, 60000, 70000, 80000, 90000, 200000, 300000, 400000, 500000, 600000, 700000, 800000, 900000, 2000000, 3000000, 4000000, 5000000, 6000000, 7000000, 8000000, 9000000, 20000000, 30000000, 40000000, 50000000, 60000000, 70000000, 80000000, 90000000], "tickSize": -4, "labels": false, "domain": false, "title": null}},
                    "y": {"field": "lambda", "type": "quantitative",
                          "axis": {"orient": "left", "values": [2, 3, 4, 5, 6, 7, 8, 9, 20, 30, 40, 50, 60, 70, 80, 90, 200, 300, 400, 500, 600, 700, 800, 900, 2000], "tickSize": -4, "labels": false, "domain": false, "title": null}}
                  }
                },
                {
                  "data": {"name": "auLambdaPoints"},
                  "transform": [{"filter": "datum.marker === 'ring'"}],
                  "mark": {"type": "point", "shape": "circle", "filled": true, "fill": "white", "stroke": "black", "strokeWidth": 1.1, "size": 64, "opacity": 1},
                  "encoding": {
                    "x": {"field": "E", "type": "quantitative",
                          "axis": {"orient": "top", "values": [10, 100, 1000, 10000, 100000, 1000000, 10000000, 100000000], "tickSize": -8, "labels": false, "domain": true, "title": null}},
                    "y": {"field": "lambda", "type": "quantitative",
                          "axis": {"orient": "right", "values": [1, 10, 100, 1000], "tickSize": -8, "labels": false, "domain": true, "title": null}}
                  }
                },
                {
                  "data": {"name": "auLambdaPoints"},
                  "transform": [{"filter": "datum.marker === 'plus'"}],
                  "mark": {"type": "point", "shape": "cross", "filled": true, "color": "black", "size": 80, "opacity": 1},
                  "encoding": {
                    "x": {"field": "E", "type": "quantitative",
                          "axis": {"orient": "top", "values": [20, 30, 40, 50, 60, 70, 80, 90, 200, 300, 400, 500, 600, 700, 800, 900, 2000, 3000, 4000, 5000, 6000, 7000, 8000, 9000, 20000, 30000, 40000, 50000, 60000, 70000, 80000, 90000, 200000, 300000, 400000, 500000, 600000, 700000, 800000, 900000, 2000000, 3000000, 4000000, 5000000, 6000000, 7000000, 8000000, 9000000, 20000000, 30000000, 40000000, 50000000, 60000000, 70000000, 80000000, 90000000], "tickSize": -4, "labels": false, "domain": false, "title": null}},
                    "y": {"field": "lambda", "type": "quantitative",
                          "axis": {"orient": "right", "values": [2, 3, 4, 5, 6, 7, 8, 9, 20, 30, 40, 50, 60, 70, 80, 90, 200, 300, 400, 500, 600, 700, 800, 900, 2000], "tickSize": -4, "labels": false, "domain": false, "title": null}}
                  }
                },
                {
                  "data": {"name": "auLambdaPoints"},
                  "transform": [{"filter": "datum.marker === 'cross'"}],
                  "mark": {"type": "point", "shape": "M0.566,-0.99L0.99,-0.566L0.424,0L0.99,0.566L0.566,0.99L0,0.424L-0.566,0.99L-0.99,0.566L-0.424,0L-0.99,-0.566L-0.566,-0.99L0,-0.424Z", "filled": true, "color": "black", "size": 80, "opacity": 1},
                  "encoding": {
                    "x": {"field": "E", "type": "quantitative", "axis": null},
                    "y": {"field": "lambda", "type": "quantitative", "axis": null}
                  }
                },
                {
                  "data": {"name": "auLambdaPoints"},
                  "transform": [{"filter": "datum.marker === 'grey'"}],
                  "mark": {"type": "point", "shape": "triangle-up", "filled": true, "color": "#8c8c8c", "size": 80, "opacity": 1},
                  "encoding": {
                    "x": {"field": "E", "type": "quantitative", "axis": null},
                    "y": {"field": "lambda", "type": "quantitative", "axis": null}
                  }
                },
                {
                  "data": {"name": "metals"},
                  "transform": [{"filter": "datum.metal === 'Au'"}],
                  "mark": {"type": "text", "align": "left", "baseline": "alphabetic", "font": "DejaVu Serif", "fontSize": 27, "color": "black"},
                  "encoding": {
                    "x": {"datum": 78.5, "type": "quantitative", "axis": null},
                    "y": {"datum": 789, "type": "quantitative", "axis": null},
                    "text": {"field": "metal"}
                  }
                }
              ]
            },
            {
              "width": 334, "height": 479,
              "resolve": {"axis": {"x": "independent", "y": "independent"}},
              "layer": [
                {
                  "data": {"name": "auStoppingCurves"},
                  "mark": {"type": "line", "interpolate": "monotone", "color": "black", "strokeWidth": 1.2},
                  "encoding": {
                    "x": {"field": "E", "type": "quantitative", "scale": {"type": "log", "domain": [10, 100000000], "nice": false},
                          "axis": {"orient": "bottom", "values": [10, 100, 1000, 10000, 100000, 1000000, 10000000, 100000000], "tickSize": -8,
                                   "labelExpr": "datum.value < 11 ? '10' : '10' + ['', '', '²', '³', '⁴', '⁵', '⁶', '⁷', '⁸'][round(log(datum.value) / LN10)]",
                                   "labelAlign": "left", "labelOffset": -9.5, "labelBaseline": "alphabetic", "labelPadding": 34,
                                   "title": "𝐸−𝐸ꜰ\u2003(eV)", "titlePadding": 7}},
                    "y": {"field": "S", "type": "quantitative", "scale": {"type": "log", "domain": [0.1, 15], "nice": false},
                          "axis": {"orient": "left", "values": [0.1, 1, 10], "tickSize": -8,
                                   "labelExpr": "datum.value < 0.5 ? '0.1' : datum.value < 5 ? '1' : '10'",
                                   "labelPadding": 13, "labelBaseline": "middle", "title": "𝑆\u2002\u2009(eV/Å)", "titlePadding": 8}},
                    "strokeDash": {"field": "model", "type": "nominal",
                                   "scale": {"domain": ["Bethe formula", "OD model"], "range": [[6, 3.5], [1, 0]]},
                                   "legend": {"title": null}}
                  }
                },
                {
                  "data": {"name": "auStoppingPoints"},
                  "transform": [{"filter": "datum.marker === 'cross'"}],
                  "mark": {"type": "point", "shape": "M0.566,-0.99L0.99,-0.566L0.424,0L0.99,0.566L0.566,0.99L0,0.424L-0.566,0.99L-0.99,0.566L-0.424,0L-0.99,-0.566L-0.566,-0.99L0,-0.424Z", "filled": true, "color": "black", "size": 80, "opacity": 1},
                  "encoding": {
                    "x": {"field": "E", "type": "quantitative",
                          "axis": {"orient": "bottom", "values": [20, 30, 40, 50, 60, 70, 80, 90, 200, 300, 400, 500, 600, 700, 800, 900, 2000, 3000, 4000, 5000, 6000, 7000, 8000, 9000, 20000, 30000, 40000, 50000, 60000, 70000, 80000, 90000, 200000, 300000, 400000, 500000, 600000, 700000, 800000, 900000, 2000000, 3000000, 4000000, 5000000, 6000000, 7000000, 8000000, 9000000, 20000000, 30000000, 40000000, 50000000, 60000000, 70000000, 80000000, 90000000], "tickSize": -4, "labels": false, "domain": false, "title": null}},
                    "y": {"field": "S", "type": "quantitative",
                          "axis": {"orient": "left", "values": [0.2, 0.3, 0.4, 0.5, 0.6, 0.7, 0.8, 0.9, 2, 3, 4, 5, 6, 7, 8, 9], "tickSize": -4, "labels": false, "domain": false, "title": null}}
                  }
                },
                {
                  "data": {"name": "auStoppingPoints"},
                  "transform": [{"filter": "datum.marker === 'plus'"}],
                  "mark": {"type": "point", "shape": "cross", "filled": true, "color": "black", "size": 80, "opacity": 1},
                  "encoding": {
                    "x": {"field": "E", "type": "quantitative",
                          "axis": {"orient": "top", "values": [10, 100, 1000, 10000, 100000, 1000000, 10000000, 100000000], "tickSize": -8, "labels": false, "domain": true, "title": null}},
                    "y": {"field": "S", "type": "quantitative",
                          "axis": {"orient": "right", "values": [0.1, 1, 10], "tickSize": -8, "labels": false, "domain": true, "title": null}}
                  }
                },
                {
                  "data": {"name": "metals"},
                  "transform": [{"filter": "datum.metal === 'Au'"}],
                  "mark": {"type": "text", "align": "right", "baseline": "alphabetic", "font": "DejaVu Serif", "fontSize": 27, "color": "black"},
                  "encoding": {
                    "x": {"datum": 12300000, "type": "quantitative",
                          "axis": {"orient": "top", "values": [20, 30, 40, 50, 60, 70, 80, 90, 200, 300, 400, 500, 600, 700, 800, 900, 2000, 3000, 4000, 5000, 6000, 7000, 8000, 9000, 20000, 30000, 40000, 50000, 60000, 70000, 80000, 90000, 200000, 300000, 400000, 500000, 600000, 700000, 800000, 900000, 2000000, 3000000, 4000000, 5000000, 6000000, 7000000, 8000000, 9000000, 20000000, 30000000, 40000000, 50000000, 60000000, 70000000, 80000000, 90000000], "tickSize": -4, "labels": false, "domain": false, "title": null}},
                    "y": {"datum": 8.3, "type": "quantitative",
                          "axis": {"orient": "right", "values": [0.2, 0.3, 0.4, 0.5, 0.6, 0.7, 0.8, 0.9, 2, 3, 4, 5, 6, 7, 8, 9], "tickSize": -4, "labels": false, "domain": false, "title": null}},
                    "text": {"field": "metal"}
                  }
                }
              ]
            }
          ]
        }
      ]
    }
  ]
}
